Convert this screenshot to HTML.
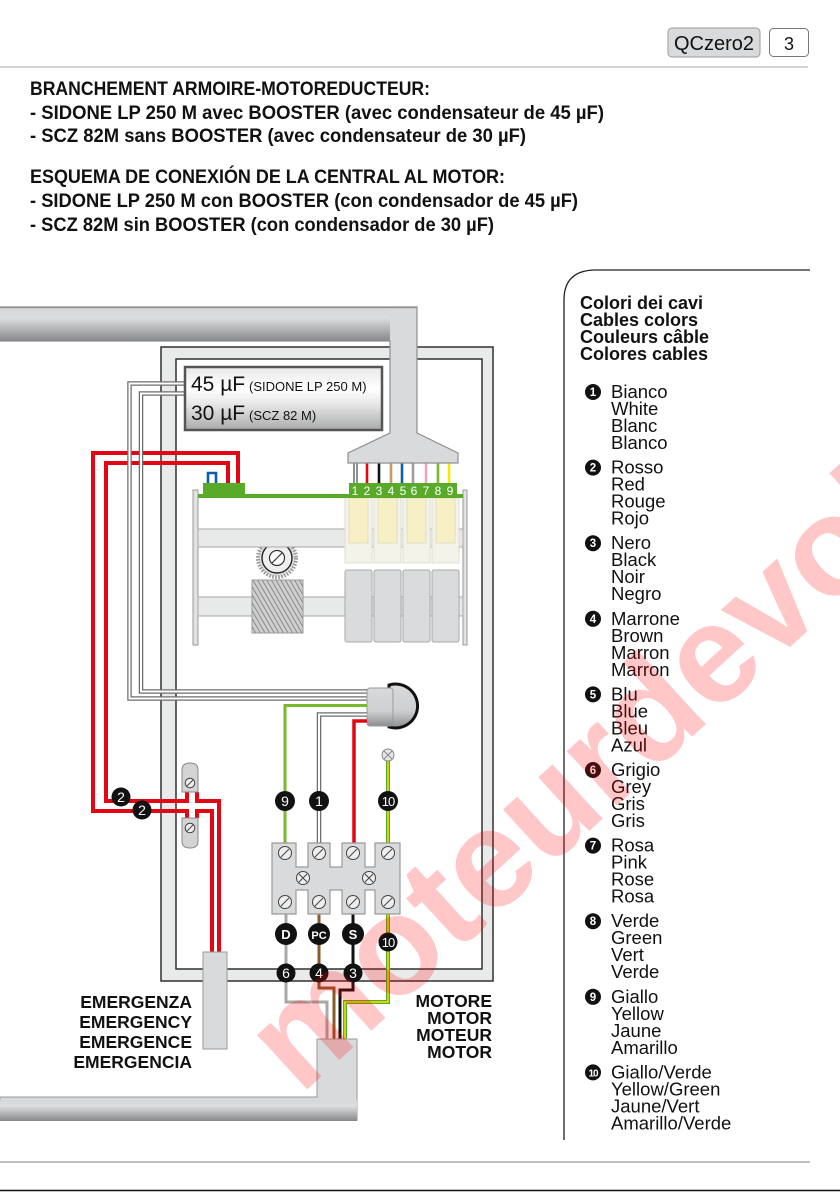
<!DOCTYPE html>
<html><head><meta charset="utf-8"><style>
html,body{margin:0;padding:0;background:#fff;}
svg{display:block;}
text{font-family:"Liberation Sans",sans-serif;}
</style></head><body>
<svg width="840" height="1192" viewBox="0 0 840 1192" xmlns="http://www.w3.org/2000/svg">
<defs>
<linearGradient id="cab" x1="0" y1="0" x2="0" y2="1">
<stop offset="0" stop-color="#d6d7d8"/><stop offset="0.3" stop-color="#dcdddf"/><stop offset="1" stop-color="#87888a"/>
</linearGradient>
<linearGradient id="cap" x1="0" y1="0" x2="0" y2="1">
<stop offset="0" stop-color="#e8e8e8"/><stop offset="0.35" stop-color="#ffffff"/><stop offset="0.6" stop-color="#e6e6e6"/><stop offset="1" stop-color="#a9aaab"/>
</linearGradient>
<linearGradient id="con" x1="0" y1="0" x2="0" y2="1">
<stop offset="0" stop-color="#d9dadb"/><stop offset="0.6" stop-color="#cfd0d1"/><stop offset="1" stop-color="#8d8e90"/>
</linearGradient>
<pattern id="hatch" width="4" height="4" patternUnits="userSpaceOnUse" patternTransform="rotate(-30)">
<rect width="4" height="4" fill="#cfcfcf"/><line x1="1" y1="0" x2="1" y2="4" stroke="#8a8a8a" stroke-width="1"/>
</pattern>
</defs>

<!-- header -->
<rect x="668" y="28" width="92" height="29" rx="4" fill="#d9dadb" stroke="#9a9a9a" stroke-width="1"/>
<text x="714" y="50" font-size="20" text-anchor="middle" fill="#111" textLength="80" lengthAdjust="spacingAndGlyphs">QCzero2</text>
<rect x="769.5" y="28.5" width="39" height="28" rx="4" fill="#fff" stroke="#777" stroke-width="1"/>
<text x="789" y="50" font-size="18" text-anchor="middle" fill="#111">3</text>
<line x1="0" y1="67" x2="808" y2="67" stroke="#d2d2d2" stroke-width="2"/>

<!-- headings -->
<g font-weight="bold" font-size="19" fill="#111">
<text x="30" y="95" textLength="400" lengthAdjust="spacingAndGlyphs">BRANCHEMENT ARMOIRE-MOTOREDUCTEUR:</text>
<text x="30" y="119" textLength="574" lengthAdjust="spacingAndGlyphs">- SIDONE LP 250 M avec BOOSTER (avec condensateur de 45 µF)</text>
<text x="30" y="142" textLength="496" lengthAdjust="spacingAndGlyphs">- SCZ 82M sans BOOSTER (avec condensateur de 30 µF)</text>
<text x="30" y="183" textLength="475" lengthAdjust="spacingAndGlyphs">ESQUEMA DE CONEXIÓN DE LA CENTRAL AL MOTOR:</text>
<text x="30" y="207" textLength="548" lengthAdjust="spacingAndGlyphs">- SIDONE LP 250 M con BOOSTER (con condensador de 45 µF)</text>
<text x="30" y="231" textLength="464" lengthAdjust="spacingAndGlyphs">- SCZ 82M sin BOOSTER (con condensador de 30 µF)</text>
</g>

<!-- enclosure -->
<rect x="161" y="347" width="332" height="634" fill="#e9eaea" stroke="#222" stroke-width="1.4"/>
<rect x="176" y="359" width="306" height="610" fill="#fff" stroke="#222" stroke-width="1.4"/>

<!-- board -->
<rect x="193" y="490" width="5" height="155" fill="#e2e2e2" stroke="#9a9a9a" stroke-width="1"/>
<rect x="463" y="490" width="4" height="155" fill="#e2e2e2" stroke="#9a9a9a" stroke-width="1"/>
<!-- gear -->
<circle cx="277" cy="558" r="19" fill="#e4e4e4" stroke="#9a9a9a" stroke-width="4" stroke-dasharray="1.6 1.4"/>
<circle cx="277" cy="558" r="15" fill="#efefef" stroke="#222" stroke-width="1.4"/>
<circle cx="277" cy="558" r="7.5" fill="#fff" stroke="#333" stroke-width="1.2"/>
<line x1="272" y1="563" x2="282" y2="553" stroke="#333" stroke-width="1.2"/>
<rect x="198" y="529" width="265" height="18" fill="#e8e9e9" stroke="#a8a8a8" stroke-width="1"/>
<rect x="198" y="597" width="265" height="19" fill="#e8e9e9" stroke="#a8a8a8" stroke-width="1"/>
<rect x="252" y="580" width="51" height="53" fill="url(#hatch)" stroke="#999" stroke-width="1"/>
<!-- relays -->
<g stroke-width="1">
<rect x="345" y="498" width="27" height="65" fill="#f3f3ea" stroke="#dcdcd4"/><rect x="349" y="498" width="19" height="45" fill="#f7f0c4" stroke="#e2ddc2"/>
<rect x="374" y="498" width="27" height="65" fill="#f3f3ea" stroke="#dcdcd4"/><rect x="378" y="498" width="19" height="45" fill="#f7f0c4" stroke="#e2ddc2"/>
<rect x="403" y="498" width="27" height="65" fill="#f3f3ea" stroke="#dcdcd4"/><rect x="407" y="498" width="19" height="45" fill="#f7f0c4" stroke="#e2ddc2"/>
<rect x="432" y="498" width="27" height="65" fill="#f3f3ea" stroke="#dcdcd4"/><rect x="436" y="498" width="19" height="45" fill="#f7f0c4" stroke="#e2ddc2"/>
<rect x="345" y="570" width="27" height="72" rx="2" fill="#dadbdc" stroke="#a8a8a8"/>
<rect x="374" y="570" width="27" height="72" rx="2" fill="#dadbdc" stroke="#a8a8a8"/>
<rect x="403" y="570" width="27" height="72" rx="2" fill="#dadbdc" stroke="#a8a8a8"/>
<rect x="432" y="570" width="27" height="72" rx="2" fill="#dadbdc" stroke="#a8a8a8"/>
</g>
<!-- green strip -->
<rect x="198" y="494" width="265" height="4" fill="#5aaa2a"/>
<rect x="203" y="483" width="42" height="14" fill="#5aaa2a"/>
<rect x="349" y="483" width="108" height="14" fill="#5aaa2a"/>
<g font-size="12" fill="#fff" text-anchor="middle">
<text x="355" y="495">1</text><text x="367" y="495">2</text><text x="379" y="495">3</text><text x="391" y="495">4</text><text x="403" y="495">5</text><text x="414" y="495">6</text><text x="426" y="495">7</text><text x="438" y="495">8</text><text x="450" y="495">9</text>
</g>
<!-- fan wires -->
<g stroke-width="2.6">
<line x1="355.5" y1="462" x2="355.5" y2="483" stroke="#222" stroke-width="4"/>
<line x1="355.5" y1="462" x2="355.5" y2="483" stroke="#fff" stroke-width="2"/>
<line x1="367" y1="462" x2="367" y2="483" stroke="#e30613"/>
<line x1="379" y1="462" x2="379" y2="483" stroke="#111"/>
<line x1="391" y1="462" x2="391" y2="483" stroke="#c49a6c"/>
<line x1="402" y1="462" x2="402" y2="483" stroke="#0b5fae"/>
<line x1="413" y1="462" x2="413" y2="483" stroke="#9d9d9d"/>
<line x1="426" y1="462" x2="426" y2="483" stroke="#f2a0c0"/>
<line x1="438" y1="462" x2="438" y2="483" stroke="#7ab929"/>
<line x1="449" y1="462" x2="449" y2="483" stroke="#ffe600"/>
</g>
<!-- blue loop -->
<path d="M208,483 V473 H216 V483" fill="none" stroke="#0b5fae" stroke-width="2.6"/>

<!-- top cable -->
<path d="M0,307 H417 V433 L458,453 V463 H348 V453 L390,433 V341 H0 Z" fill="#d9dadb" stroke="#8f8f8f" stroke-width="1.2"/>
<rect x="0" y="308" width="390" height="33" fill="url(#cab)"/>
<line x1="0" y1="307.5" x2="417" y2="307.5" stroke="#8f8f8f" stroke-width="1.2"/>

<!-- red wires -->
<g fill="none" stroke="#e30613" stroke-width="4" stroke-linejoin="miter">
<path d="M238,483 V453 H93 V811 H187 V818"/>
<path d="M197,818 V811 H212 V952"/>
<path d="M228,483 V463 H106 V801 H187 V792"/>
<path d="M197,792 V801 H219 V952"/>
</g>

<!-- capacitor wires -->
<g fill="none" stroke-linejoin="miter">
<path d="M186,383.5 H129.5 V698.5 H368" stroke="#6d6d6d" stroke-width="4.5"/>
<path d="M186,383.5 H129.5 V698.5 H368" stroke="#fff" stroke-width="2"/>
<path d="M186,393.5 H141 V691.5 H368" stroke="#6d6d6d" stroke-width="4.5"/>
<path d="M186,393.5 H141 V691.5 H368" stroke="#fff" stroke-width="2"/>
</g>

<!-- capacitor -->
<rect x="185" y="367" width="197" height="63" fill="url(#cap)" stroke="#555" stroke-width="2.5"/>
<text x="191" y="391" font-size="21" fill="#111">45 µF</text>
<text x="249" y="391" font-size="13" fill="#111">(SIDONE LP 250 M)</text>
<text x="191" y="420" font-size="21" fill="#111">30 µF</text>
<text x="249" y="420" font-size="13" fill="#111">(SCZ 82 M)</text>

<!-- emergency terminals -->
<path d="M182,792 V770 Q182,763 190,763 Q198,763 198,770 V792 Z" fill="#d3d4d5" stroke="#888" stroke-width="1"/>
<circle cx="190" cy="783" r="4.8" fill="#eee" stroke="#444" stroke-width="1"/><line x1="187" y1="786" x2="193" y2="780" stroke="#444" stroke-width="1"/>
<path d="M182,818 V841 Q182,848 190,848 Q198,848 198,841 V818 Z" fill="#d3d4d5" stroke="#888" stroke-width="1"/>
<circle cx="190" cy="828" r="4.8" fill="#eee" stroke="#444" stroke-width="1"/><line x1="187" y1="831" x2="193" y2="825" stroke="#444" stroke-width="1"/>
<rect x="203" y="952" width="24" height="97" fill="#d9dadb" stroke="#9a9a9a" stroke-width="1"/>

<!-- motor connector -->
<path d="M389,685 A22,22 0 1 1 389,727 Z" fill="url(#con)" stroke="#111" stroke-width="3"/>
<rect x="367" y="688" width="26" height="38" rx="3" fill="url(#con)" stroke="#9a9a9a" stroke-width="1"/>

<!-- wires to terminal block -->
<path d="M367,705.5 H285 V843" fill="none" stroke="#7ab929" stroke-width="3"/>
<path d="M367,714.5 H319 V843" fill="none" stroke="#6d6d6d" stroke-width="4.5"/>
<path d="M367,714.5 H319 V843" fill="none" stroke="#fff" stroke-width="2"/>
<path d="M367,721 H354 V843" fill="none" stroke="#e30613" stroke-width="3.5"/>
<line x1="388" y1="761" x2="388" y2="843" stroke="#5aaa2a" stroke-width="4"/>
<line x1="388" y1="761" x2="388" y2="843" stroke="#ffe600" stroke-width="1.4"/>
<circle cx="388" cy="755" r="6" fill="#e6e6e6" stroke="#888" stroke-width="1"/>
<path d="M384,751 L392,759 M392,751 L384,759" stroke="#888" stroke-width="1"/>

<!-- lower wires -->
<g fill="none">
<path d="M286,914 V1002 H327 V1040" stroke="#a8a8a8" stroke-width="3"/>
<path d="M319,914 V988 H334 V1040" stroke="#8b5a2b" stroke-width="3"/>
<path d="M353,914 V990 H340 V1040" stroke="#111" stroke-width="3"/>
<path d="M388,914 V1002 H345 V1040" stroke="#5aaa2a" stroke-width="4"/>
<path d="M388,914 V1002 H345 V1040" stroke="#ffe600" stroke-width="1.4"/>
</g>

<!-- terminal block -->
<path d="M272,843 H296 V867 H308 V843 H330 V867 H342 V843 H365 V867 H375 V843 H400 V914 H375 V890 H365 V914 H342 V890 H330 V914 H308 V890 H296 V914 H272 Z" fill="#d9dadb" stroke="#9a9a9a" stroke-width="1.2"/>
<g fill="#eee" stroke="#444" stroke-width="1">
<circle cx="285" cy="853" r="6.5"/><circle cx="319" cy="853" r="6.5"/><circle cx="353" cy="853" r="6.5"/><circle cx="388" cy="853" r="6.5"/>
<circle cx="285" cy="902" r="6.5"/><circle cx="319" cy="902" r="6.5"/><circle cx="353" cy="902" r="6.5"/><circle cx="388" cy="902" r="6.5"/>
<circle cx="303" cy="878" r="6.5"/><circle cx="369" cy="878" r="6.5"/>
</g>
<g stroke="#444" stroke-width="1">
<path d="M281,857 L289,849 M315,857 L323,849 M349,857 L357,849 M384,857 L392,849"/>
<path d="M281,906 L289,898 M315,906 L323,898 M349,906 L357,898 M384,906 L392,898"/>
<path d="M299,874 L307,882 M307,874 L299,882 M365,874 L373,882 M373,874 L365,882"/>
</g>

<!-- bottom cable -->
<path d="M317,1039 H357 V1120 H0 V1097 H317 Z" fill="#d9dadb" stroke="#9a9a9a" stroke-width="1"/>
<rect x="0" y="1100" width="357" height="21" fill="url(#cab)"/>

<!-- badges -->
<g fill="#111">
<circle cx="121" cy="797" r="9.5"/><circle cx="142" cy="810" r="9.5"/>
<circle cx="285" cy="801" r="10"/><circle cx="319" cy="801" r="10"/><circle cx="388" cy="801" r="10"/>
<circle cx="286" cy="934" r="11"/><circle cx="319" cy="934" r="11"/><circle cx="353" cy="934" r="11"/>
<circle cx="388" cy="942" r="9.5"/>
<circle cx="286" cy="973" r="9.5"/><circle cx="319" cy="973" r="9.5"/><circle cx="353" cy="973" r="9.5"/>
</g>
<g fill="#fff" text-anchor="middle" font-size="14">
<text x="121" y="802">2</text><text x="142" y="815">2</text>
<text x="285" y="806">9</text><text x="319" y="806">1</text><text x="388" y="806" font-size="13" letter-spacing="-1">10</text>
<text x="286" y="939" font-weight="bold" font-size="13">D</text>
<text x="319" y="939" font-weight="bold" font-size="11">PC</text>
<text x="353" y="939" font-weight="bold" font-size="13">S</text>
<text x="388" y="947" font-size="13" letter-spacing="-1">10</text>
<text x="286" y="978">6</text><text x="319" y="978">4</text><text x="353" y="978">3</text>
</g>

<!-- labels -->
<g font-weight="bold" font-size="17.5" fill="#111" text-anchor="end">
<text x="192" y="1008">EMERGENZA</text>
<text x="192" y="1028">EMERGENCY</text>
<text x="192" y="1048">EMERGENCE</text>
<text x="192" y="1068">EMERGENCIA</text>
<text x="492" y="1007">MOTORE</text>
<text x="492" y="1024">MOTOR</text>
<text x="492" y="1041">MOTEUR</text>
<text x="492" y="1058">MOTOR</text>
</g>

<!-- legend -->
<path d="M564,1140 V300 Q564,271 594,270 H810" fill="none" stroke="#222" stroke-width="1.3"/>
<g font-weight="bold" font-size="18" fill="#111">
<text x="580" y="309">Colori dei cavi</text>
<text x="580" y="326">Cables colors</text>
<text x="580" y="343">Couleurs câble</text>
<text x="580" y="360">Colores cables</text>
</g>
<g fill="#111"><circle cx="593" cy="392" r="8"/><circle cx="593" cy="467.6" r="8"/><circle cx="593" cy="543.2" r="8"/><circle cx="593" cy="618.8" r="8"/><circle cx="593" cy="694.4" r="8"/><circle cx="593" cy="770" r="8"/><circle cx="593" cy="845.6" r="8"/><circle cx="593" cy="921.2" r="8"/><circle cx="593" cy="996.8" r="8"/><circle cx="593" cy="1072.4" r="8"/></g>
<g fill="#fff" font-size="11.5" font-weight="bold" text-anchor="middle">
<text x="593" y="396">1</text><text x="593" y="471.6">2</text><text x="593" y="547.2">3</text><text x="593" y="622.8">4</text><text x="593" y="698.4">5</text><text x="593" y="774">6</text><text x="593" y="849.6">7</text><text x="593" y="925.2">8</text><text x="593" y="1000.8">9</text><text x="593" y="1076.4" font-size="10" letter-spacing="-1">10</text>
</g>
<g font-size="18.5" fill="#111">
<text x="611" y="398">Bianco</text><text x="611" y="415">White</text><text x="611" y="432">Blanc</text><text x="611" y="449">Blanco</text>
<text x="611" y="473.6">Rosso</text><text x="611" y="490.6">Red</text><text x="611" y="507.6">Rouge</text><text x="611" y="524.6">Rojo</text>
<text x="611" y="549.2">Nero</text><text x="611" y="566.2">Black</text><text x="611" y="583.2">Noir</text><text x="611" y="600.2">Negro</text>
<text x="611" y="624.8">Marrone</text><text x="611" y="641.8">Brown</text><text x="611" y="658.8">Marron</text><text x="611" y="675.8">Marron</text>
<text x="611" y="700.4">Blu</text><text x="611" y="717.4">Blue</text><text x="611" y="734.4">Bleu</text><text x="611" y="751.4">Azul</text>
<text x="611" y="776">Grigio</text><text x="611" y="793">Grey</text><text x="611" y="810">Gris</text><text x="611" y="827">Gris</text>
<text x="611" y="851.6">Rosa</text><text x="611" y="868.6">Pink</text><text x="611" y="885.6">Rose</text><text x="611" y="902.6">Rosa</text>
<text x="611" y="927.2">Verde</text><text x="611" y="944.2">Green</text><text x="611" y="961.2">Vert</text><text x="611" y="978.2">Verde</text>
<text x="611" y="1002.8">Giallo</text><text x="611" y="1019.8">Yellow</text><text x="611" y="1036.8">Jaune</text><text x="611" y="1053.8">Amarillo</text>
<text x="611" y="1078.4">Giallo/Verde</text><text x="611" y="1095.4">Yellow/Green</text><text x="611" y="1112.4">Jaune/Vert</text><text x="611" y="1129.4">Amarillo/Verde</text>
</g>

<!-- footer -->
<line x1="0" y1="1162" x2="810" y2="1162" stroke="#aaa" stroke-width="1.5"/>
<line x1="0" y1="1190.5" x2="840" y2="1190.5" stroke="#111" stroke-width="1.5"/>

<!-- watermark -->
<text transform="translate(300,1096) rotate(-42.5)" font-size="140" font-weight="bold" fill="#ff0000" fill-opacity="0.22">moteurdevolet</text>
</svg>
</body></html>
